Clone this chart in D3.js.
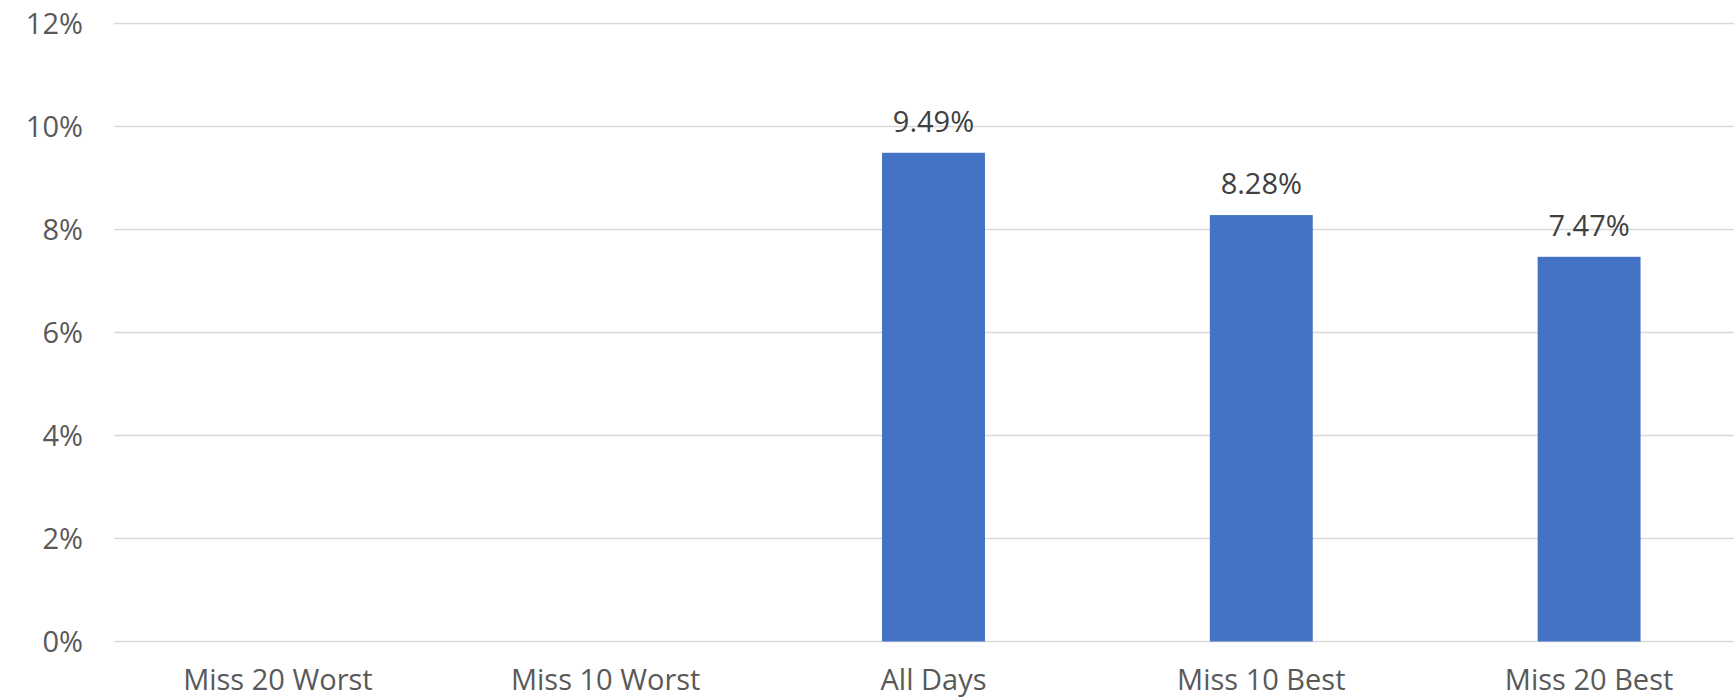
<!DOCTYPE html>
<html>
<head>
<meta charset="utf-8">
<script src="https://cdn.jsdelivr.net/npm/d3@7"></script>
<style>
  html, body { margin: 0; padding: 0; background: #fff; }
  svg text { font-family: "Open Sans", "DejaVu Sans", sans-serif; }
</style>
</head>
<body>
<svg id="chart" width="1734" height="698"></svg>
<script>
(function () {
    "use strict";
    // categories and values (percent); the two "Worst" bars are not drawn in the source
    var CATEGORIES = ["Miss 20 Worst", "Miss 10 Worst", "All Days", "Miss 10 Best", "Miss 20 Best"],
        RETURNS = [null, null, 9.49, 8.28, 7.47],
        Y_TICKS = [0, 2, 4, 6, 8, 10, 12],
        BAR_COLOR = "#4472C4",
        GRID_COLOR = "#d9d9d9",
        svg = d3.select("#chart"),
        margin = {top: 23.5, left: 114, bottom: 698 - 641.5},
        x = d3.scaleBand()
            .domain(CATEGORIES)
            .range([margin.left, 1753])
            .padding(0),
        y = d3.scaleLinear()
            .domain([0, 12])
            .range([641.5, margin.top]),
        barWidth = x.bandwidth() * 0.314,
        data = CATEGORIES.map(function (c, i) {
            return {name: c, value: RETURNS[i]};
        });

    // gridlines
    svg.append("g")
        .selectAll("line")
        .data(Y_TICKS)
        .join("line")
        .attr("x1", margin.left)
        .attr("x2", 1734)
        .attr("y1", function (d) { return y(d); })
        .attr("y2", function (d) { return y(d); })
        .attr("stroke", GRID_COLOR)
        .attr("stroke-width", 1.5);

    // y tick labels
    svg.append("g")
        .selectAll("text")
        .data(Y_TICKS)
        .join("text")
        .attr("x", 83)
        .attr("y", function (d) { return y(d); })
        .attr("dy", "0.36em")
        .attr("text-anchor", "end")
        .attr("font-size", 29)
        .attr("fill", "#595959")
        .text(function (d) { return d + "%"; });

    // bars
    var shown = data.filter(function (d) { return d.value !== null; });
    svg.append("g")
        .selectAll("rect")
        .data(shown)
        .join("rect")
        .attr("x", function (d) { return x(d.name) + x.bandwidth() / 2 - barWidth / 2; })
        .attr("y", function (d) { return y(d.value); })
        .attr("width", barWidth)
        .attr("height", function (d) { return y(0) - y(d.value); })
        .attr("fill", BAR_COLOR);

    // value labels
    svg.append("g")
        .selectAll("text")
        .data(shown)
        .join("text")
        .attr("x", function (d) { return x(d.name) + x.bandwidth() / 2; })
        .attr("y", function (d) { return y(d.value) - 21; })
        .attr("text-anchor", "middle")
        .attr("font-size", 29)
        .attr("fill", "#404040")
        .text(function (d) { return d.value.toFixed(2) + "%"; });

    // category labels
    svg.append("g")
        .selectAll("text")
        .data(CATEGORIES)
        .join("text")
        .attr("x", function (d) { return x(d) + x.bandwidth() / 2; })
        .attr("y", 690)
        .attr("text-anchor", "middle")
        .attr("font-size", 29)
        .attr("fill", "#595959")
        .text(function (d) { return d; });
}());
</script>
</body>
</html>
